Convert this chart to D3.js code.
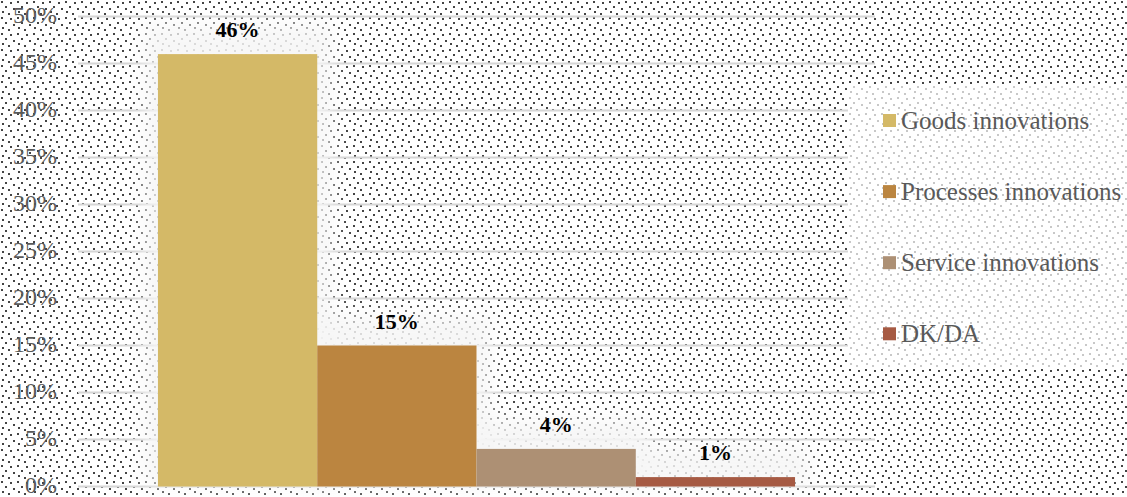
<!DOCTYPE html>
<html>
<head>
<meta charset="utf-8">
<script src="https://cdn.jsdelivr.net/npm/d3@7/dist/d3.min.js"></script>
<style>
  html, body { margin: 0; padding: 0; background: #fff; }
  svg { display: block; }
</style>
</head>
<body>
<div id="chart"></div>
<script>
const categories = [""];
const seriesNames = ["Goods innovations", "Processes innovations", "Service innovations", "DK/DA"];
const seriesValues = [0.46, 0.15, 0.04, 0.01];
const dataLabels = ["46%", "15%", "4%", "1%"];
const seriesColors = ["#d4b967", "#bb8540", "#ad9074", "#a65a43"];
const yTicks = [0, 0.05, 0.10, 0.15, 0.20, 0.25, 0.30, 0.35, 0.40, 0.45, 0.50];

const W = 1127, H = 497;
const plot = { left: 78, right: 875, top: 16.5, bottom: 486.5 };
const FONT = "'Liberation Serif', 'Times New Roman', serif";

const svg = d3.select("#chart").append("svg").attr("width", W).attr("height", H);
const defs = svg.append("defs");

// dotted background pattern
function dotPattern(id, color) {
  const p = defs.append("pattern").attr("id", id)
    .attr("patternUnits", "userSpaceOnUse").attr("width", 16).attr("height", 16);
  p.append("rect").attr("width", 16).attr("height", 16).attr("fill", "#fff");
  const dots = [[1,1],[10,2],[5,6],[13,8],[2,11],[8,13]];
  dots.forEach(d => p.append("rect").attr("x", d[0]).attr("y", d[1])
    .attr("width", 2).attr("height", 2).attr("fill", color));
}
dotPattern("dots", "#444444");
dotPattern("dotsLight", "#c8c8c8");

const blur = defs.append("filter").attr("id", "glow")
  .attr("x", "-50%").attr("y", "-50%").attr("width", "200%").attr("height", "200%");
blur.append("feGaussianBlur").attr("stdDeviation", 9);
const blur2 = defs.append("filter").attr("id", "glowLine")
  .attr("x", "-5%").attr("y", "-500%").attr("width", "110%").attr("height", "1100%");
blur2.append("feGaussianBlur").attr("stdDeviation", 2);

svg.append("rect").attr("width", W).attr("height", H).attr("fill", "url(#dots)");

// scales
const y = d3.scaleLinear().domain([0, 0.5]).range([plot.bottom, plot.top]);
const x0 = d3.scaleBand().domain(categories).range([plot.left, plot.right])
  .paddingInner(0).paddingOuter(0.1255);
const x1 = d3.scaleBand().domain(seriesNames).range([0, x0.bandwidth()]).padding(0);

// gridlines with soft glow
const grid = svg.append("g");
grid.selectAll("line.glow").data(yTicks).join("line")
  .attr("x1", plot.left).attr("x2", plot.right)
  .attr("y1", d => y(d)).attr("y2", d => y(d))
  .attr("stroke", "#ffffff").attr("stroke-width", 7).attr("opacity", 0.9)
  .attr("filter", "url(#glowLine)");
grid.selectAll("line.g").data(yTicks).join("line")
  .attr("x1", plot.left).attr("x2", plot.right)
  .attr("y1", d => y(d)).attr("y2", d => y(d))
  .attr("stroke", "#d6d6d6").attr("stroke-width", 2);

// y axis labels
const yAxis = d3.axisLeft(y).tickValues(yTicks).tickFormat(d3.format(".0%")).tickSize(0).tickPadding(0);
const ag = svg.append("g").attr("transform", "translate(57,0)").call(yAxis);
ag.select(".domain").remove();
ag.selectAll("text").attr("font-family", FONT).attr("font-size", 24).attr("fill", "#595959")
  .attr("dy", "0.26em");

// bars
const data = seriesNames.map((s, i) => ({ name: s, value: seriesValues[i], label: dataLabels[i], color: seriesColors[i] }));
const g = svg.append("g").attr("transform", `translate(${x0(categories[0])},0)`);

g.selectAll("rect.glow").data(data).join("rect")
  .attr("x", d => x1(d.name) - 14).attr("width", x1.bandwidth() + 28)
  .attr("y", d => y(d.value) - 30).attr("height", d => y(0) - y(d.value) + 30)
  .attr("fill", "#f6f6f6").attr("opacity", 0.85).attr("filter", "url(#glow)");

g.selectAll("rect.bar").data(data).join("rect")
  .attr("x", d => x1(d.name)).attr("width", x1.bandwidth())
  .attr("y", d => y(d.value)).attr("height", d => y(0) - y(d.value))
  .attr("fill", d => d.color);

g.selectAll("text.lbl").data(data).join("text")
  .attr("x", d => x1(d.name) + x1.bandwidth() / 2)
  .attr("y", d => y(d.value) - 17)
  .attr("text-anchor", "middle")
  .attr("font-family", FONT).attr("font-size", 22).attr("font-weight", "bold")
  .attr("fill", "#000").text(d => d.label);

// legend
const lg = svg.append("g");
lg.append("rect").attr("x", 848).attr("y", 84).attr("width", W - 848).attr("height", 283)
  .attr("fill", "url(#dotsLight)");
const items = lg.selectAll("g.item").data(data).join("g")
  .attr("transform", (d, i) => `translate(883,${120.5 + i * 71.1})`);
items.append("rect").attr("x", 0).attr("y", -6.5).attr("width", 13).attr("height", 13)
  .attr("fill", d => d.color);
items.append("text").attr("x", 18).attr("y", 8)
  .attr("font-family", FONT).attr("font-size", 25).attr("fill", "#595959")
  .text(d => d.name);
</script>
</body>
</html>
